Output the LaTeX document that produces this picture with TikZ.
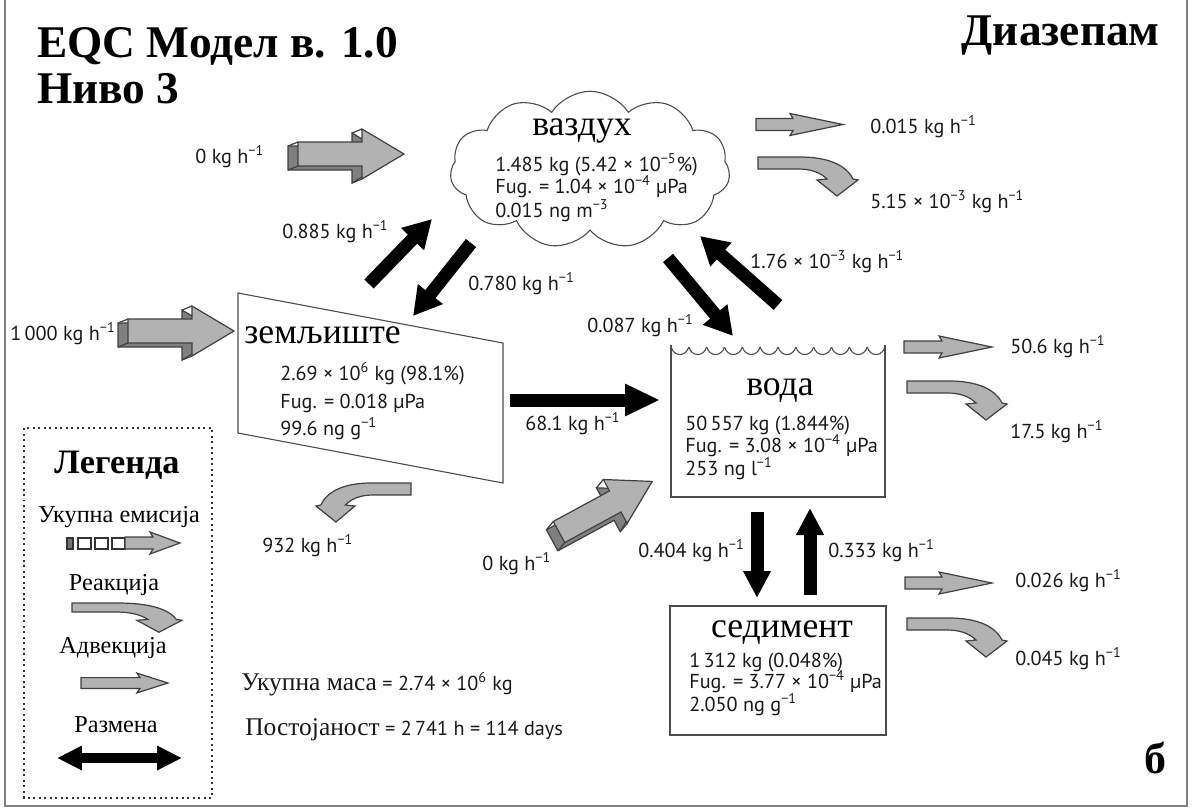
\documentclass[tikz,border=0pt]{standalone}
\usepackage{fontspec}
\setmainfont{Liberation Serif}
\newfontfamily\sansf{PT Sans}
\usetikzlibrary{arrows.meta,shapes.symbols}

\newcommand\su[1]{\textsuperscript{#1}}

\begin{document}
\begin{tikzpicture}[x=0.02cm,y=-0.02cm,
  lbl/.style={font=\sansf\fontsize{11.5}{13}\selectfont, text=black!90, inner sep=0pt, anchor=base west},
  comp/.style={font=\fontsize{20.3}{23}\selectfont, inner sep=0pt, anchor=base},
  ttl/.style={font=\bfseries\fontsize{25.8}{30}\selectfont, inner sep=0pt},
  legtxt/.style={font=\fontsize{13.8}{16}\selectfont, inner sep=0pt, anchor=base},
  outline/.style={draw=black!75, line width=0.024cm, line join=miter},
  grayfill/.style={outline, fill=black!30},
  sidefill/.style={outline, fill=black!50},
  boxline/.style={draw=black!70, line width=0.022cm},
  flow/.style={line width=0.26cm, -{Triangle[length=0.56cm,width=0.6cm]}},
  pics/adv/.style 2 args={code={
    \filldraw[grayfill] (0,-6) -- (#1,-6) -- (#1-3,-11) -- (#2,0) -- (#1-3,11) -- (#1,6) -- (0,6) -- cycle;}},
  pics/react/.style={code={
    \filldraw[grayfill] (0,0) -- (42,0) .. controls (70,0) and (88,8) .. (95,22) -- (100,23)
      -- (79,39) -- (59,23) -- (69,22) .. controls (62,15) and (52,12) .. (40,12) -- (0,12) -- cycle;}},
  pics/emit/.style={code={
    \begin{scope}[shift={(-10,4)}]
      \filldraw[sidefill] (0,-12) -- (64,-12) -- (64,-25) -- (106,0) -- (64,25) -- (64,12) -- (0,12) -- cycle;
    \end{scope}
    \draw[outline] (0,-12) -- (-10,-8) (64,-25) -- (54,-21) (64,25) -- (54,29) (0,12) -- (-10,16);
    \filldraw[grayfill] (0,-12) -- (64,-12) -- (64,-25) -- (106,0) -- (64,25) -- (64,12) -- (0,12) -- cycle;}}
]
\useasboundingbox (0,0) rectangle (1192,809);

% frame
\draw[black!50, line width=0.04cm] (5,0) -- (5,806) -- (1187,806) -- (1187,0);

% headings
\node[ttl, anchor=base west] (title) at (37,57) {EQC Модел в. 1.0};
\node[ttl, anchor=base west] (level) at (37,103) {Ниво 3};
\node[ttl, anchor=base east] (chem) at (1160,45) {Диазепам};
\node[ttl, font=\bfseries\fontsize{25}{30}\selectfont, anchor=base east] (panel) at (1167,773) {б};

% air compartment
\node[cloud, cloud puffs=11, cloud puff arc=115, aspect=1.8, boxline,
      minimum width=5.6cm, minimum height=3.15cm, inner sep=0pt] (air) at (590,170) {};
\node[comp] (airname) at (582,135) {ваздух};
\node[lbl] (air1) at (495,171) {1.485 kg (5.42 × 10\su{−5}\%)};
\node[lbl] (air2) at (495,193) {Fug. = 1.04 × 10\su{−4} µPa};
\node[lbl] (air3) at (495,217) {0.015 ng m\su{−3}};

% soil compartment
\draw[boxline] (238,293) -- (503,343) -- (503,483) -- (238,433) -- cycle;
\node[comp, anchor=base west] (soilname) at (244,343) {земљиште};
\node[lbl] (soil1) at (280,380) {2.69 × 10\su{6} kg (98.1\%)};
\node[lbl] (soil2) at (280,408) {Fug. = 0.018 µPa};
\node[lbl] (soil3) at (280,435) {99.6 ng g\su{−1}};

% water compartment
\draw[boxline] (671,345) -- (671,497) -- (885,497) -- (885,345);
\foreach \i [evaluate=\i as \xa using 671+\i*17.8333,
             evaluate=\i as \xb using 671+(\i+1)*17.8333] in {0,...,11}
  \draw[boxline] (\xa,347) .. controls (\xa+3,357) and (\xb-3,357) .. (\xb,347);
\node[comp] (watername) at (780,395) {вода};
\node[lbl] (water1) at (685,430) {50\,557 kg (1.844\%)};
\node[lbl] (water2) at (685,452) {Fug. = 3.08 × 10\su{−4} µPa};
\node[lbl] (water3) at (685,475) {253 ng l\su{−1}};

% sediment compartment
\draw[boxline] (670,606) rectangle (886,735);
\node[comp] (sedname) at (782,637) {седимент};
\node[lbl] (sed1) at (689,667) {1\,312 kg (0.048\%)};
\node[lbl] (sed2) at (689,688) {Fug. = 3.77 × 10\su{−4} µPa};
\node[lbl] (sed3) at (689,711) {2.050 ng g\su{−1}};

% exchange flows
\coordinate (sa1) at (369,284); \coordinate (sa2) at (432,219);
\coordinate (as1) at (471,243); \coordinate (as2) at (413,316);
\coordinate (aw1) at (668,258); \coordinate (aw2) at (733,336);
\coordinate (wa1) at (778,305); \coordinate (wa2) at (700,236);
\coordinate (sw1) at (510,400); \coordinate (sw2) at (660,400);
\coordinate (ws1) at (757,512); \coordinate (ws2) at (757,598);
\coordinate (sd1) at (810,595); \coordinate (sd2) at (810,508);
\draw[flow] (sa1) -- (sa2);
\draw[flow] (as1) -- (as2);
\draw[flow] (aw1) -- (aw2);
\draw[flow] (wa1) -- (wa2);
\draw[flow, -{Triangle[length=0.7cm,width=0.6cm]}] (sw1) -- (sw2);
\draw[flow, -{Triangle[length=0.54cm,width=0.52cm]}] (ws1) -- (ws2);
\draw[flow, -{Triangle[length=0.54cm,width=0.52cm]}] (sd1) -- (sd2);
\node[lbl] (fsa) at (282,238) {0.885 kg h\su{−1}};
\node[lbl] (fas) at (468,290) {0.780 kg h\su{−1}};
\node[lbl] (faw) at (587,332) {0.087 kg h\su{−1}};
\node[lbl] (fwa) at (750,268) {1.76 × 10\su{−3} kg h\su{−1}};
\node[lbl] (fsw) at (525,430) {68.1 kg h\su{−1}};
\node[lbl] (fws) at (638,557) {0.404 kg h\su{−1}};
\node[lbl] (fsd) at (828,557) {0.333 kg h\su{−1}};

% emissions
\pic at (298,154) {emit};
\pic at (128,331) {emit};
\pic[rotate=28.5] at (559,532) {emit};
\node[lbl] (eair) at (195,163) {0 kg h\su{−1}};
\node[lbl] (esoil) at (10,340) {1\,000 kg h\su{−1}};
\node[lbl] (ewater) at (482,570) {0 kg h\su{−1}};

% advection losses
\pic at (756,124.5) {adv={37}{87}};
\pic at (904,347) {adv={38}{88}};
\pic at (905,583) {adv={37}{87}};
\node[lbl] (aair) at (870,133) {0.015 kg h\su{−1}};
\node[lbl] (awater) at (1010,353) {50.6 kg h\su{−1}};
\node[lbl] (ased) at (1015,587) {0.026 kg h\su{−1}};

% reaction losses
\pic at (758,157) {react};
\pic at (907,381) {react};
\pic at (907,618) {react};
\pic[xscale=-0.95] at (411,483) {react};
\node[lbl] (rair) at (870,208) {5.15 × 10\su{−3} kg h\su{−1}};
\node[lbl] (rwater) at (1010,438) {17.5 kg h\su{−1}};
\node[lbl] (rsed) at (1015,665) {0.045 kg h\su{−1}};
\node[lbl] (rsoil) at (262,552) {932 kg h\su{−1}};

% totals
\node[lbl] (total) at (241,690) {{\rmfamily\fontsize{14.5}{16}\selectfont Укупна маса} = 2.74 × 10\su{6} kg};
\node[lbl] (persist) at (245,735) {{\rmfamily\fontsize{14.5}{16}\selectfont Постојаност} = 2\,741 h = 114 days};

% legend
\draw[black!80, line width=0.04cm, dash pattern=on 0.04cm off 0.07cm] (24,428) rectangle (212,798);
\node[font=\bfseries\fontsize{19.5}{22}\selectfont, inner sep=0pt, anchor=base] (legend) at (117,473) {Легенда};
\node[legtxt] (lgemit) at (119,522) {Укупна емисија};
\filldraw[draw=black!80, fill=black!55, line width=0.04cm] (67,538) rectangle (73,549);
\foreach \x in {78,95,112}
  \draw[black!80, line width=0.04cm] (\x,538) rectangle (\x+13,549);
\pic at (125,543) {adv={28}{55}};
\node[legtxt] (lgreact) at (114,590) {Реакција};
\pic[xscale=1.1, yscale=0.75] at (72,603) {react};
\node[legtxt] (lgadv) at (113,653) {Адвекција};
\pic[yscale=0.9] at (81,683) {adv={59}{87}};
\node[legtxt] (lgexch) at (116,732) {Размена};
\coordinate (ex1) at (57,758); \coordinate (ex2) at (182,758);
\draw[line width=0.2cm, {Triangle[length=0.5cm,width=0.46cm]}-{Triangle[length=0.5cm,width=0.46cm]}] (ex1) -- (ex2);
\end{tikzpicture}
\end{document}
